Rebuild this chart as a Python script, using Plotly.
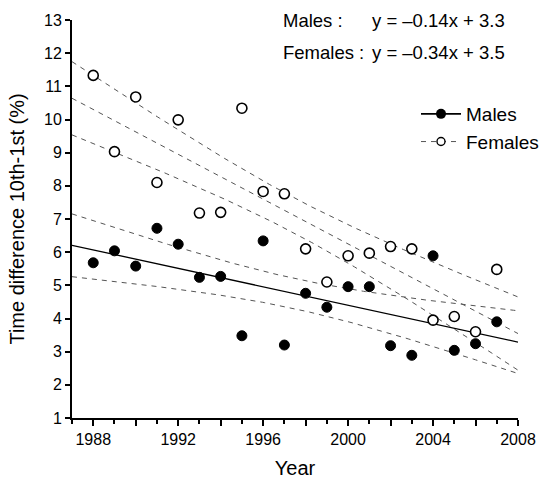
import numpy as np
import plotly.graph_objects as go

years = list(range(1988, 2008))
males = [5.68, 6.04, 5.58, 6.72, 6.24, 5.24, 5.27, 3.48, 6.34, 3.20,
         4.76, 4.34, 4.96, 4.96, 3.18, 2.89, 5.89, 3.04, 3.24, 3.90]
females = [11.33, 9.03, 10.68, 8.10, 9.99, 7.18, 7.20, 10.34, 7.83, 7.76,
           6.10, 5.10, 5.89, 5.97, 6.17, 6.10, 3.95, 4.06, 3.60, 5.48]
eq_males = "y = \u20130.14x + 3.3"
eq_females = "y = \u20130.34x + 3.5"
x_ticks = list(range(1988, 2009, 2))
x_ticklabels = [str(v) if v % 4 == 0 else "" for v in x_ticks]
y_ticks = list(range(1, 14))

FONT = "Liberation Sans, Arial, sans-serif"
T_CRIT = 2.101  # t(0.975, df=18)


def fit_band(x, y, xs):
    x = np.asarray(x, float)
    y = np.asarray(y, float)
    b, a = np.polyfit(x, y, 1)
    n = len(x)
    resid = y - (a + b * x)
    s = np.sqrt(np.sum(resid ** 2) / (n - 2))
    sxx = np.sum((x - x.mean()) ** 2)
    fit = a + b * xs
    se = s * np.sqrt(1.0 / n + (xs - x.mean()) ** 2 / sxx)
    return fit, fit - T_CRIT * se, fit + T_CRIT * se


xs = np.linspace(1987, 2008, 200)
m_fit, m_lo, m_hi = fit_band(years, males, xs)
f_fit, f_lo, f_hi = fit_band(years, females, xs)

dash_style = dict(color="#555555", width=1, dash="5px,5px")

fig = go.Figure()
for yy in (m_lo, m_hi, f_fit, f_lo, f_hi):
    fig.add_trace(go.Scatter(x=xs, y=yy, mode="lines", line=dash_style,
                             showlegend=False, hoverinfo="skip"))
fig.add_trace(go.Scatter(x=xs, y=m_fit, mode="lines",
                         line=dict(color="black", width=1.3),
                         showlegend=False, hoverinfo="skip"))
fig.add_trace(go.Scatter(x=years, y=males, mode="markers", showlegend=False,
                         marker=dict(size=10, color="black",
                                     line=dict(color="black", width=1))))
fig.add_trace(go.Scatter(x=years, y=females, mode="markers", showlegend=False,
                         marker=dict(size=10, color="white",
                                     line=dict(color="black", width=1.6))))
# legend entries
fig.add_trace(go.Scatter(x=[None], y=[None], mode="lines+markers", name="Males",
                         line=dict(color="black", width=1.6),
                         marker=dict(size=10, color="black")))
fig.add_trace(go.Scatter(x=[None], y=[None], mode="lines+markers", name="Females",
                         line=dash_style,
                         marker=dict(size=8, color="white",
                                     line=dict(color="black", width=1.4))))

L, R, T, B = 72, 23, 20, 70
W, H = 541, 488
pw = W - L - R
ph = H - T - B


def px_to_paper(px):
    return (px - L) / pw


def py_to_paper(py):
    return (H - B - py) / ph


annots = [
    dict(text="Males :", x=281, y=20),
    dict(text=eq_males, x=370, y=20),
    dict(text="Females :", x=281, y=52),
    dict(text=eq_females, x=370, y=52),
]
for a in annots:
    fig.add_annotation(text=a["text"], xref="paper", yref="paper",
                       x=px_to_paper(a["x"]), y=py_to_paper(a["y"]),
                       xanchor="left", yanchor="middle", showarrow=False,
                       font=dict(family=FONT, size=18.5, color="black"))

fig.update_layout(
    width=W, height=H,
    margin=dict(l=L, r=R, t=T, b=B, autoexpand=False),
    paper_bgcolor="white", plot_bgcolor="white",
    font=dict(family=FONT, color="black"),
    legend=dict(x=px_to_paper(416), y=py_to_paper(95), xanchor="left",
                yanchor="top", bgcolor="rgba(0,0,0,0)",
                font=dict(family=FONT, size=19), tracegroupgap=0,
                itemwidth=40),
)
fig.update_xaxes(range=[1987, 2008], showgrid=False, zeroline=False,
                 automargin=False,
                 showline=True, linecolor="black", linewidth=2,
                 ticks="outside", ticklen=6, tickwidth=2, tickcolor="black",
                 tickvals=x_ticks, ticktext=x_ticklabels,
                 tickfont=dict(family=FONT, size=16),
                 minor=dict(dtick=1, tick0=1987, ticklen=4, tickwidth=1.5,
                            tickcolor="black", ticks="outside"),
                 title=dict(text="Year", font=dict(family=FONT, size=20),
                            standoff=14))
fig.update_yaxes(range=[1, 13], showgrid=False, zeroline=False,
                 automargin=False,
                 showline=True, linecolor="black", linewidth=2,
                 ticks="outside", ticklen=5, tickwidth=2, tickcolor="black",
                 tickvals=y_ticks, tickfont=dict(family=FONT, size=16),
                 title=dict(text="Time difference 10th-1st (%)",
                            font=dict(family=FONT, size=20), standoff=14))

fig.write_html("out.html",
               config={"displayModeBar": False},
               post_script="document.body.style.margin='0';"
                           "document.body.style.overflow='hidden';")
